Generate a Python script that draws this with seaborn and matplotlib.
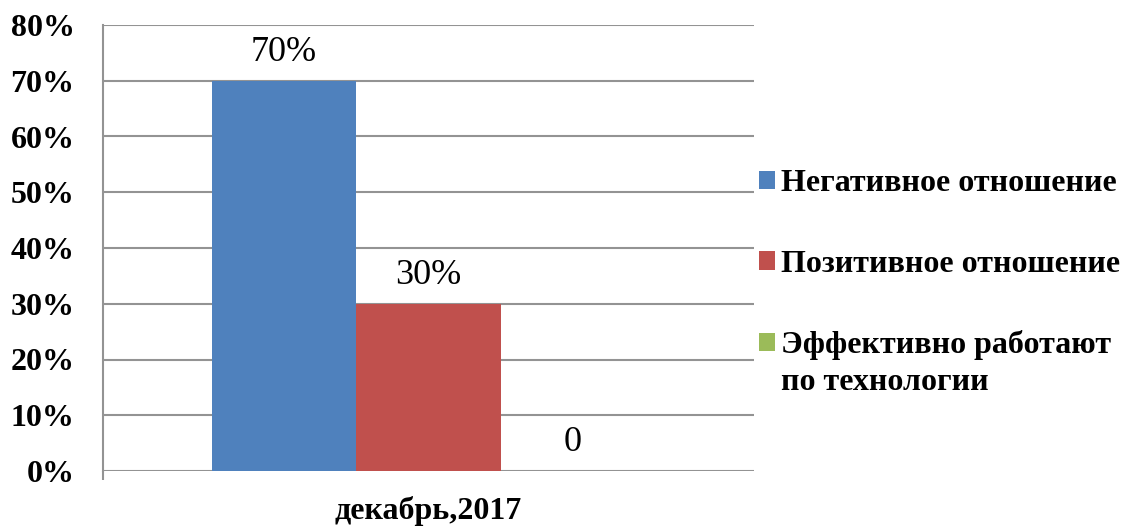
import matplotlib
matplotlib.use("Agg")
import matplotlib.pyplot as plt
from matplotlib.patches import Patch
from matplotlib.ticker import PercentFormatter, MultipleLocator
import seaborn as sns
import pandas as pd
import numpy as np

# ---- data ----
categories = ["декабрь,2017"]
series = ["Негативное отношение", "Позитивное отношение", "Эффективно работают по технологии"]
legend_first_lines = ["Негативное отношение", "Позитивное отношение", "Эффективно работают"]
legend_extra_line = "по технологии"
values = [0.70, 0.30, 0.0]
value_labels = ["70%", "30%", "0"]
colors = ["#4F81BD", "#C0504D", "#9BBB59"]

sns.set_theme(style="white")
plt.rcParams["font.family"] = ["Liberation Serif", "DejaVu Serif"]
plt.rcParams["text.color"] = "black"
plt.rcParams["xtick.labelcolor"] = "black"
plt.rcParams["ytick.labelcolor"] = "black"

fig = plt.figure(figsize=(11.26, 5.27), dpi=100)
ax = fig.add_axes([103 / 1126, 1 - 471 / 527, (754 - 103) / 1126, (471 - 25) / 527])

df = pd.DataFrame({"period": categories * len(series), "series": series, "value": values})
sns.barplot(data=df, x="period", y="value", hue="series", hue_order=series,
            palette=colors, saturation=1, width=0.8, linewidth=0, ax=ax, legend=False,
            errorbar=None)

half = 0.8 * 651 / 433 / 2
ax.set_xlim(-half, half)
ax.set_ylim(0, 0.8)
ax.yaxis.set_major_locator(MultipleLocator(0.1))
ax.yaxis.set_major_formatter(PercentFormatter(1.0, decimals=0))

grid_c = "#939393"
ax.grid(axis="y", color=grid_c, linewidth=1.5)
ax.set_axisbelow(True)
for s in ["top", "right", "bottom"]:
    ax.spines[s].set_visible(False)
ax.spines["left"].set_color(grid_c)
ax.spines["left"].set_linewidth(1.5)

ax.tick_params(axis="y", which="major", length=6.5, width=1.5, color=grid_c, pad=14,
               labelsize=23, labelcolor="black")
ax.tick_params(axis="x", which="major", length=0, pad=18, labelsize=23, labelcolor="black")
ax.set_xticks([ax.get_xlim()[0]], minor=True)
ax.tick_params(axis="x", which="minor", bottom=True, length=6.5, width=1.5, color=grid_c)
for lab in ax.get_yticklabels() + ax.get_xticklabels():
    lab.set_fontweight("bold")
ax.set_xlabel("")
ax.set_ylabel("")

for cont, lab in zip(ax.containers, value_labels):
    ax.bar_label(cont, labels=[lab], padding=8.5, fontsize=26, color="black")

handles = [Patch(facecolor=c, edgecolor="none") for c in colors]
leg = fig.legend(handles, legend_first_lines, loc="upper left",
                 bbox_to_anchor=(759 / 1126, 1 - 169 / 527), frameon=False,
                 prop={"weight": "bold", "size": 23}, handlelength=0.5, handleheight=0.5,
                 handletextpad=0.2, labelspacing=1.62, borderpad=0, borderaxespad=0)
for t in leg.get_texts():
    t.set_color("black")

fig.canvas.draw()
t = leg.get_texts()[-1]
bb = t.get_window_extent()
inv = fig.transFigure.inverted()
x0, y0 = inv.transform((bb.x0, bb.y0))
fig.text(x0, y0 - 37 / 527, legend_extra_line, fontsize=23, fontweight="bold",
         ha="left", va="bottom", color="black")

fig.savefig("out.png", dpi=100, facecolor="white")
